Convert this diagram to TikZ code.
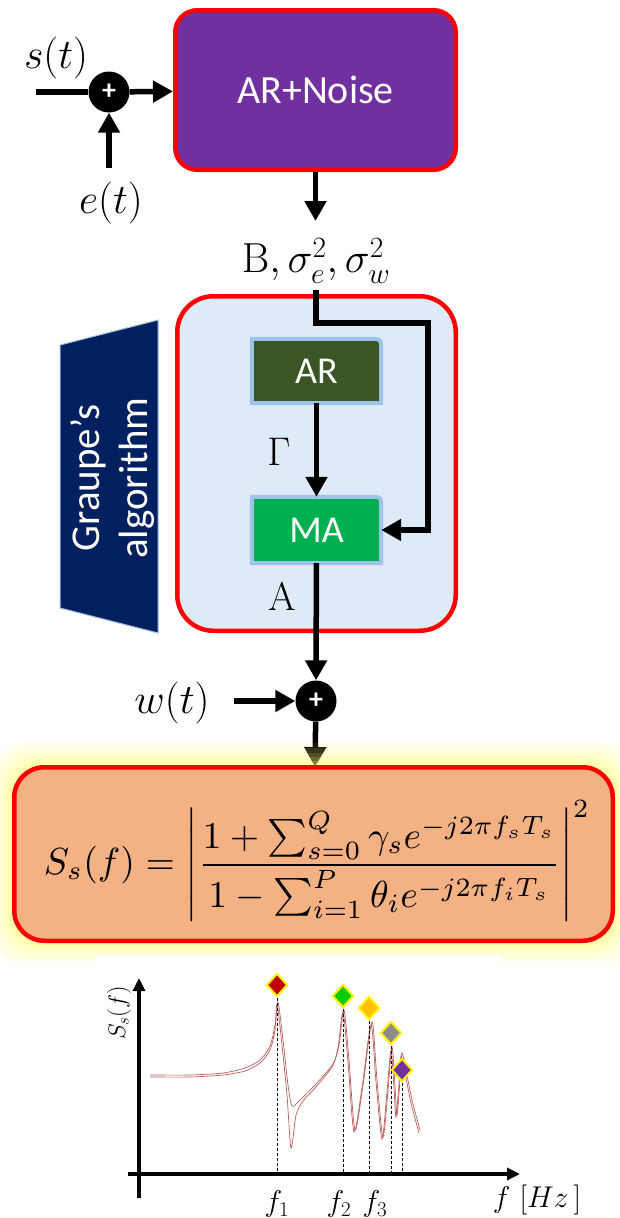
\RequirePackage{fix-cm}
\documentclass[tikz,border=0pt]{standalone}
\usepackage[no-math]{fontspec}
\newfontfamily\carl{Carlito}
\usepackage{graphicx}
\usetikzlibrary{arrows.meta,shapes.geometric,calc}
\definecolor{boxred}{HTML}{FF0000}
\definecolor{purp}{HTML}{7030A0}
\definecolor{lightbg}{HTML}{DEEBF7}
\definecolor{argreen}{HTML}{3B5524}
\definecolor{magreen}{HTML}{00B050}
\definecolor{edgeblue}{HTML}{9DC3E6}
\definecolor{navy}{HTML}{002060}
\definecolor{peach}{HTML}{F4B183}
\definecolor{glow}{HTML}{FFFF70}
\definecolor{curvecol}{HTML}{B8605A}
\definecolor{dred}{HTML}{C00000}
\definecolor{dgreen}{HTML}{00CC00}
\definecolor{dorange}{HTML}{FFC000}
\definecolor{dgray}{HTML}{8C8C8C}
\definecolor{dpurple}{HTML}{7030A0}
\begin{document}
\begin{tikzpicture}[x=1pt,y=-1pt,
 redbox/.style={draw=boxred, line width=4.5pt, rounded corners=#1},
 sumnode/.style={circle, fill=black, minimum size=41pt, inner sep=0pt, text=white, font=\carl\bfseries\fontsize{28}{28}\selectfont},
 arr/.style={line width=5.5pt, line join=miter, -{Triangle[length=20pt,width=21pt]}},
 plainline/.style={line width=5.5pt},
 mlabel/.style={inner sep=0pt, font=\fontsize{42}{46}\selectfont},
 glabel/.style={inner sep=0pt, font=\fontsize{40}{44}\selectfont},
 innerbox/.style={inner sep=0pt, minimum width=129pt},
 innertext/.style={inner sep=0pt, text=white, font=\carl\fontsize{38}{40}\selectfont},
 marker/.style={diamond, draw=yellow, line width=2pt, minimum width=21pt, minimum height=23pt, inner sep=0pt},
 dline/.style={line width=0.8pt, dash pattern=on 3pt off 2pt},
 curvestyle/.style={draw=curvecol, line width=0.7pt},
 axis/.style={line width=3.5pt, -{Triangle[length=13pt,width=12pt]}},
 flabel/.style={inner sep=0pt, font=\fontsize{30}{32}\selectfont},
]
\useasboundingbox (0,0) rectangle (619,1218);
\fill[white] (0,0) rectangle (619,1218);

% ---------- top block
\node[redbox=22pt, fill=purp, minimum width=280.5pt, minimum height=159.5pt, inner sep=0pt,
      text=white, font=\carl\fontsize{40}{40}\selectfont] (arn) at (315.5,90) {AR+Noise};
\node[sumnode] (s1) at (109,92) {+};
\coordinate (sin) at (36,92);
\coordinate (ein) at (109,168);
\node[mlabel] (st) at (56,58) {$s(t)$};
\node[mlabel] (et) at (111,203) {$e(t)$};
\draw[plainline] (sin) -- (s1);
\draw[arr] (s1) -- (arn);
\draw[arr] (ein) -- (s1);
\node[mlabel] (bl) at (316,261) {$\mathrm{B},\sigma_e^2,\sigma_w^2$};
\coordinate (bt) at (315.5,221);
\draw[arr] (arn) -- (bt);

% ---------- Graupe block
\filldraw[fill=navy, draw=edgeblue, line width=1pt] (60,345) -- (158,320) -- (158,633) -- (60,608) -- cycle;
\node[rotate=90, align=center, text=white, inner sep=0pt,
      font=\carl\fontsize{41}{48}\selectfont] (graupe) at (113,478) {Graupe’s\\algorithm};

\node[redbox=36pt, fill=lightbg, minimum width=278.5pt, minimum height=334.5pt, inner sep=0pt] (alg) at (316.5,463.5) {};

\node[innerbox, minimum height=64pt] (ar) at (316.5,371) {};
\filldraw[fill=argreen, draw=edgeblue, line width=4pt]
  (ar.south west) -- (ar.north west) -- ($(ar.north east)+(-12,0)$) .. controls (ar.north east) .. ($(ar.north east)+(0,12)$) -- (ar.south east) -- cycle;
\node[innertext] (artxt) at (ar) {AR};

\node[innerbox, minimum height=66pt] (ma) at (316.5,530) {};
\filldraw[fill=magreen, draw=edgeblue, line width=4pt]
  (ma.south west) -- (ma.north west) -- ($(ma.north east)+(-12,0)$) .. controls (ma.north east) .. ($(ma.north east)+(0,12)$) -- (ma.south east) -- cycle;
\node[innertext] (matxt) at (ma) {MA};

\coordinate (btop) at (316,290);
\coordinate (c1) at (316,323);
\coordinate (c2) at (428,323);
\coordinate (c3) at (428,530);
\draw[arr] (btop) -- (c1) -- (c2) -- (c3) -- (ma);
\draw[arr] (ar) -- (ma);
\node[glabel] (gam) at (279,452) {$\Gamma$};
\node[glabel] (alab) at (282,597) {$\mathrm{A}$};

% ---------- second sum
\node[sumnode] (s2) at (316,701) {+};
\draw[arr] (ma) -- (s2);
\coordinate (win) at (234,701);
\draw[arr] (win) -- (s2);
\node[mlabel] (wt) at (172,703) {$w(t)$};

% ---------- formula box
\node[minimum width=598.5pt, minimum height=173.5pt, inner sep=0pt] (fb) at (313.5,854) {};
\draw[arr] (s2) -- (fb);
\foreach \g/\o in {24/0.10, 19/0.12, 14/0.14, 10/0.16, 6/0.18, 3/0.2}
  \fill[glow, opacity=\o, rounded corners=34pt] ($(fb.north west)+(-\g,-\g)$) rectangle ($(fb.south east)+(\g,\g)$);
\node[redbox=30pt, fill=peach, minimum width=598.5pt, minimum height=173.5pt, inner sep=0pt] (fbox) at (fb) {};
\node[inner sep=0pt] (formula) at (317,861) {\resizebox{546pt}{!}{$\displaystyle S_s(f)=\left|\frac{1+\sum_{s=0}^{Q}\gamma_s e^{-j2\pi f_s T_s}}{1-\sum_{i=1}^{P}\theta_i e^{-j2\pi f_i T_s}}\right|^2$}};

% ---------- plot
\fill[white] (96,955) rectangle (502,1168);
\draw[curvestyle] plot[smooth, tension=0.45] coordinates {
 (150,1075) (190,1075) (223,1073) (245,1068) (260,1060) (270,1046) (275,1025) (278,1002)
 (283,1040) (288,1085) (292,1106) (300,1100) (315,1085) (333,1064) (339,1045) (344,1010)
 (349,1060) (355,1130) (363,1085) (372,1022) (377,1080) (383,1137) (388,1090) (392,1047)
 (395,1085) (397,1115) (400,1080) (402,1053) (406,1070) (412,1100) (420,1130)};
\draw[curvestyle] plot[smooth, tension=0.45] coordinates {
 (150,1077) (190,1077) (223,1075) (245,1071) (260,1063) (270,1050) (275,1030) (277,1004)
 (282,1045) (287,1095) (291,1148) (296,1115) (303,1101) (315,1088) (332,1067) (338,1048) (343,1012)
 (348,1062) (354,1132) (362,1088) (371,1025) (376,1082) (382,1139) (387,1092) (391,1050)
 (394,1088) (396,1117) (399,1083) (401,1056) (405,1073) (411,1103) (419,1133)};

\coordinate (yb) at (139,1198);
\coordinate (yt) at (139,978);
\coordinate (xl) at (128,1174);
\coordinate (xr) at (520,1174);
\draw[axis] (yb) -- (yt);
\draw[axis] (xl) -- (xr);

\node[marker, fill=dred] (m1) at (277,985) {};
\node[marker, fill=dgreen] (m2) at (343,996) {};
\node[marker, fill=dorange] (m3) at (369,1008) {};
\node[marker, fill=dgray] (m4) at (391,1033) {};
\node[marker, fill=dpurple] (m5) at (402,1070) {};
\foreach \m in {m1,m2,m3,m4,m5}
  \draw[dline] (\m.south) -- (\m.south |- xl);

\node[rotate=90, inner sep=0pt, font=\fontsize{24}{24}\selectfont] (ylab) at (119,1013) {$S_s(f)$};
\node[flabel] (f1) at (277,1204) {$f_1$};
\node[flabel] (f2) at (339,1204) {$f_2$};
\node[flabel] (f3) at (375,1204) {$f_3$};
\node[flabel] (xlab) at (537,1200) {$f\ [Hz\,]$};
\end{tikzpicture}
\end{document}
